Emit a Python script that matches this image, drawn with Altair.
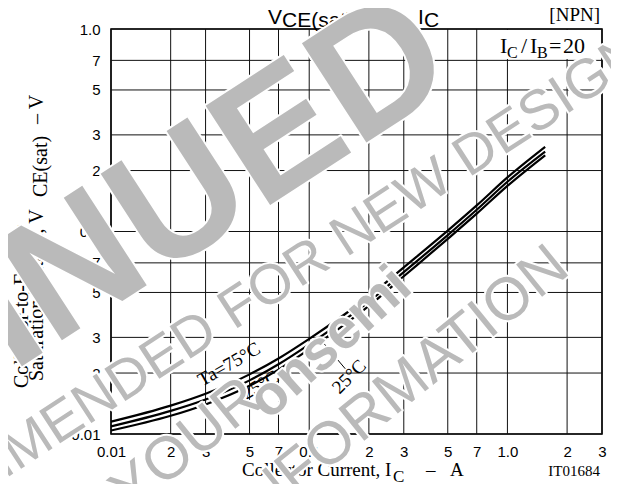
import altair as alt
import pandas as pd

# ---------------- data ----------------
ic = [0.01, 0.02, 0.03, 0.05, 0.07, 0.1, 0.15, 0.2, 0.3, 0.5, 0.7, 1.0, 1.55]
vce_75 = [0.0115, 0.0138, 0.0158, 0.0197, 0.0236, 0.0295, 0.0388, 0.0478, 0.0665, 0.1010, 0.1345, 0.1850, 0.2620]
vce_25 = [0.0109, 0.0130, 0.0148, 0.0184, 0.0221, 0.0277, 0.0365, 0.0451, 0.0630, 0.0960, 0.1280, 0.1760, 0.2480]
vce_m25 = [0.0104, 0.0123, 0.0140, 0.0173, 0.0208, 0.0262, 0.0346, 0.0429, 0.0601, 0.0920, 0.1225, 0.1680, 0.2380]
series = ["Ta=75°C", "25°C", "–25°C"]

x_ticks = [0.01, 0.02, 0.03, 0.05, 0.07, 0.1, 0.2, 0.3, 0.5, 0.7, 1.0, 2.0, 3.0]
x_tick_labels = ["0.01", "2", "3", "5", "7", "0.1", "2", "3", "5", "7", "1.0", "2", "3"]
y_ticks = [0.01, 0.02, 0.03, 0.05, 0.07, 0.1, 0.2, 0.3, 0.5, 0.7, 1.0]
y_tick_labels = ["0.01", "2", "3", "5", "7", "0.1", "2", "3", "5", "7", "1.0"]

# annotation anchor points (data coordinates)
ann_text = ["Ta=75°C", "–25°C", "25°C"]
ann_x = [0.0394, 0.054, 0.159]
ann_y = [0.0221, 0.0170, 0.0192]
ann_angle = [330, 330, 315]
leader = {"x": [0.115], "y": [0.0290], "x2": [0.152], "y2": [0.021]}

W, H = 491, 405

rows = []
for name, vals in zip(series, [vce_75, vce_25, vce_m25]):
    for i, v in zip(ic, vals):
        rows.append({"ic": i, "vce": v, "series": name})
df = pd.DataFrame(rows)


def label_expr(vals, labels):
    parts = [f"abs(datum.value-{v})<{v * 1e-4} ? '{l}'" for v, l in zip(vals, labels)]
    return " : ".join(parts) + " : ''"


xs = alt.Scale(type="log", domain=[0.01, 3], nice=False)
ys = alt.Scale(type="log", domain=[0.01, 1.0], nice=False)
axis_common = dict(grid=False, ticks=False, domain=False, labelFont="Liberation Sans", labelFontSize=15,
                   labelColor="black", labelFlush=False, labelOverlap=False, labelBound=False, title=None)
xaxis = alt.Axis(values=x_ticks, labelExpr=label_expr(x_ticks, x_tick_labels), labelPadding=10, **axis_common)
yaxis = alt.Axis(values=y_ticks, labelExpr=label_expr(y_ticks, y_tick_labels), labelPadding=11, **axis_common)


def X(f):
    return alt.X(f, type="quantitative", scale=xs, axis=xaxis)


def Y(f):
    return alt.Y(f, type="quantitative", scale=ys, axis=yaxis)


one = pd.DataFrame({"t": [""]})


def ptext(text, x, y, size, font="Liberation Serif", angle=0, align="left", baseline="alphabetic",
          color="black", weight="normal", stroke=None, sw=0):
    kw = dict(font=font, fontSize=size, align=align, baseline=baseline, fill=color, fontWeight=weight)
    if angle:
        kw["angle"] = angle
    if stroke:
        kw["stroke"] = stroke
        kw["strokeWidth"] = sw
        kw["strokeJoin"] = "round"
    return alt.Chart(pd.DataFrame({"t": [text]})).mark_text(**kw).encode(
        x=alt.value(x), y=alt.value(y), text="t:N")


xgrid = alt.Chart(pd.DataFrame({"v": x_ticks})).mark_rule(color="#111111", strokeWidth=1).encode(x=X("v"))
ygrid = alt.Chart(pd.DataFrame({"v": y_ticks})).mark_rule(color="#111111", strokeWidth=1).encode(y=Y("v"))

lines = alt.Chart(df).mark_line(color="black", strokeWidth=2.2, interpolate="monotone", clip=True).encode(
    x=X("ic"), y=Y("vce"), detail="series:N")

box = alt.Chart(one).mark_rect(fill="white").encode(
    x=alt.value(386), x2=alt.value(W - 1), y=alt.value(1), y2=alt.value(30))

lead = alt.Chart(pd.DataFrame(leader)).mark_rule(color="black", strokeWidth=1).encode(
    x=X("x"), y=Y("y"), x2="x2", y2="y2")

ann_layers = []
for t, ax, ay, ang in zip(ann_text, ann_x, ann_y, ann_angle):
    ann_layers.append(
        alt.Chart(pd.DataFrame({"x": [ax], "y": [ay], "t": [t]})).mark_text(
            font="Liberation Serif", fontSize=19, angle=ang, align="center", baseline="middle", color="black"
        ).encode(x=X("x"), y=Y("y"), text="t:N"))

texts = [
    # title  V_CE(sat) – I_C
    ptext("V", 157, -5, 21, font="Liberation Sans"),
    ptext("CE(sat)", 171, -2, 21, font="Liberation Sans"),
    ptext("–", 283, -5, 21, font="Liberation Sans", align="center"),
    ptext("I", 307, -5, 21, font="Liberation Sans"),
    ptext("C", 313, -2, 21, font="Liberation Sans"),
    ptext("[NPN]", 489, -8, 19, align="right"),
    # I_C / I_B = 20
    ptext("I", 389, 24, 22),
    ptext("C", 396, 29, 16),
    ptext("/", 410, 24, 22),
    ptext("I", 419, 24, 22),
    ptext("B", 426, 29, 16),
    ptext("=", 438, 24, 22),
    ptext("20", 452, 24, 22),
    # x title
    ptext("Collector Current, I", 131, 447, 19),
    ptext("C", 282, 453, 17),
    ptext("–", 315, 447, 19),
    ptext("A", 339, 447, 19),
    ptext("IT01684", 489, 447, 15, align="right"),
    # y title
    ptext("Collector-to-Emitter", -83, 359, 20, angle=270),
    ptext("Saturation Voltage, V", -68, 352, 20, angle=270),
    ptext("CE(sat)", -64, 168, 20, angle=270),
    ptext("–  V", -68, 95, 20, angle=270),
]

WM = "#bababa"
wm_specs = [
    ("DISCONTINUED", 350, 52, 172, 327, "right", "bold", "alphabetic"),
    ("NOT RECOMMENDED FOR NEW DESIGN", -380, 628, 56, 327, "left", "normal", "alphabetic"),
    ("FOR YOUR", -91, 574, 60, 321, "left", "normal", "alphabetic"),
    ("INFORMATION", 138, 505, 60, 321, "left", "normal", "alphabetic"),
    ("onsemi", 219, 314, 56, 318, "center", "bold", "middle"),
]
wm = []
for t, x, y, s, a, al, wt, bl in wm_specs:
    wm.append(ptext(t, x, y, s, font="Liberation Sans", angle=a, align=al, baseline=bl, color="white",
                    weight=wt, stroke="white", sw=4))
for t, x, y, s, a, al, wt, bl in wm_specs:
    wm.append(ptext(t, x, y, s, font="Liberation Sans", angle=a, align=al, baseline=bl, color=WM, weight=wt))

chart = alt.layer(xgrid, ygrid, box, lines, lead, *ann_layers, *texts, *wm).properties(
    width=W, height=H,
    padding={"left": 103, "top": 21, "right": 9, "bottom": 50},
    autosize=alt.AutoSizeParams(type="none"),
    background="white",
).configure_view(stroke="black", strokeWidth=1.6)

chart.save("out.html", embed_options={"renderer": "svg", "actions": False})
